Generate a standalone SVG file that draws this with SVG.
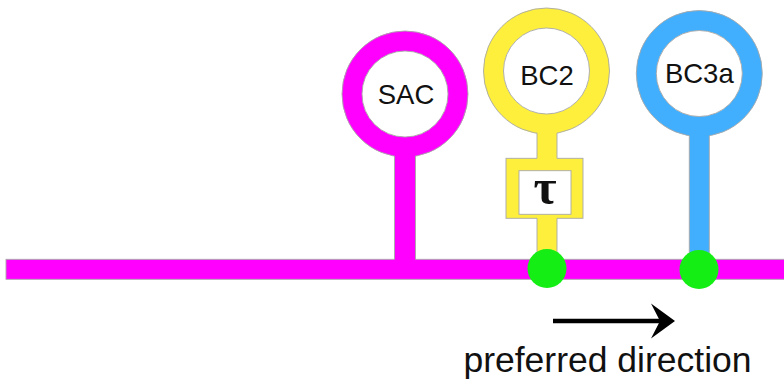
<svg xmlns="http://www.w3.org/2000/svg" width="784" height="381" viewBox="0 0 784 381">
  <style>
    .edge { fill: none; stroke: #a8a8a8; stroke-width: 0.9; }
    .mag { fill: #ff00ff; }
    .yel { fill: #fdef3c; }
    .blu { fill: #41affd; }
    .ring { fill: #ffffff; stroke-width: 20; }
    .lbl { font-family: "Liberation Sans", Arial, sans-serif; font-size: 27.5px; fill: #111111; text-anchor: middle; }
    .syn { fill: #14ee14; }
  </style>

  <!-- horizontal process -->
  <g id="process">
    <rect class="mag" x="6" y="259.3" width="790" height="20"/>
    <rect class="edge" x="6" y="259.3" width="790" height="20"/>
  </g>

  <!-- cell bodies -->
  <g id="SAC">
    <circle class="ring" cx="405" cy="94" r="53" stroke="#ff00ff"/>
    <circle class="edge" cx="405" cy="94" r="63"/>
    <circle class="edge" cx="405" cy="94" r="43"/>
    <text class="lbl" x="406" y="103.5">SAC</text>
  </g>

  <g id="BC2">
    <circle class="ring" cx="546.5" cy="71" r="53" stroke="#fdef3c"/>
    <circle class="edge" cx="546.5" cy="71" r="63"/>
    <circle class="edge" cx="546.5" cy="71" r="43"/>
    <text class="lbl" x="547" y="85">BC2</text>
  </g>

  <g id="BC3a">
    <circle class="ring" cx="699.3" cy="73.5" r="53" stroke="#41affd"/>
    <circle class="edge" cx="699.3" cy="73.5" r="63"/>
    <circle class="edge" cx="699.3" cy="73.5" r="43"/>
    <text class="lbl" x="699.3" y="82.5">BC3a</text>
  </g>

  <!-- delay element -->
  <g id="delay">
    <rect class="yel" x="506" y="158.3" width="77" height="60"/>
    <rect class="edge" x="506" y="158.3" width="77" height="60"/>
    <rect x="519" y="170.7" width="52" height="43.6" fill="#ffffff"/>
    <rect class="edge" x="519" y="170.7" width="52" height="43.6"/>
    <text x="545" y="204" font-family="'Liberation Serif', 'Times New Roman', serif" font-size="50" font-weight="bold" fill="#111111" text-anchor="middle">τ</text>
  </g>

  <!-- stems joining cells to the process -->
  <g id="connectors">
    <rect class="mag" x="394.5" y="144" width="21" height="118"/>
    <path class="edge" d="M394.5,156 V259.3 M415.5,156 V259.3"/>

    <rect class="yel" x="537" y="121" width="20" height="39"/>
    <path class="edge" d="M537,133 V158.3 M557,133 V158.3"/>
    <rect class="yel" x="537" y="216" width="20" height="46"/>
    <path class="edge" d="M537,218.3 V259.3 M557,218.3 V259.3"/>

    <rect class="blu" x="689.3" y="123" width="20" height="139"/>
    <path class="edge" d="M689.3,135.7 V259.3 M709.3,135.7 V259.3"/>
  </g>

  <!-- synapses -->
  <g id="synapse-BC2">
    <circle class="syn" cx="547" cy="268.5" r="19.5"/>
  </g>
  <g id="synapse-BC3a">
    <circle class="syn" cx="699" cy="269.5" r="19.5"/>
  </g>

  <!-- direction arrow -->
  <g id="direction">
    <line x1="553" y1="321" x2="660" y2="321" stroke="#000000" stroke-width="4.5"/>
    <path d="M675,321 L651,303.5 L660,321 L651,338.5 Z" fill="#000000"/>
    <text x="607.5" y="372" font-family="'Liberation Sans', Arial, sans-serif" font-size="35.5" fill="#111111" text-anchor="middle">preferred direction</text>
  </g>
</svg>
